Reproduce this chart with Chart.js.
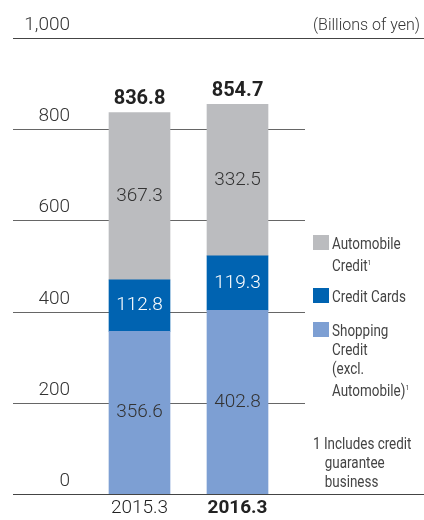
<!DOCTYPE html>
<html>
<head>
<meta charset="utf-8">
<script src="https://cdn.jsdelivr.net/npm/chart.js@4.4.1/dist/chart.umd.min.js"></script>
<style>
    html, body { margin: 0; padding: 0; background: #fff; }
    #wrap { position: relative; width: 424px; height: 520px; }
    #chart { position: absolute; left: 0; top: 0; }
    .unit { position: absolute; right: 4px; top: 15px; font: 300 16px Roboto, sans-serif; color: #333; white-space: nowrap; }
    .legend { position: absolute; left: 313px; font: 16px Roboto, sans-serif; color: #444; line-height: 19px; white-space: nowrap; }
    .legend .sw { position: absolute; left: 0; top: 1px; width: 16px; height: 15px; }
    .legend .tx { margin-left: 19px; transform: scaleX(0.84); transform-origin: left top; }
    .legend sup { font-size: 8px; vertical-align: 6px; }
    .note { position: absolute; left: 313px; top: 434px; font: 16px Roboto, sans-serif; color: #444; line-height: 19px; white-space: nowrap; transform: scaleX(0.84); transform-origin: left top; }
    .note .ind { padding-left: 14px; }
</style>
</head>
<body>
<div id="wrap">
    <canvas id="chart" width="424" height="520"></canvas>
    <div class="unit">(Billions of yen)</div>
    <div class="legend" style="top:234px"><span class="sw" style="background:#bbbcbf"></span><div class="tx">Automobile<br>Credit<sup>1</sup></div></div>
    <div class="legend" style="top:287px"><span class="sw" style="background:#0063b1"></span><div class="tx">Credit Cards</div></div>
    <div class="legend" style="top:321px"><span class="sw" style="background:#7d9fd3"></span><div class="tx">Shopping<br>Credit<br>(excl.<br>Automobile)<sup>1</sup></div></div>
    <div class="note">1 Includes credit<br><span class="ind">guarantee</span><br><span class="ind">business</span></div>
</div>
<script>
// Chart data
const categories = ['2015.3', '2016.3'];
const shoppingCredit = [356.6, 402.8];
const creditCards = [112.8, 119.3];
const automobileCredit = [367.3, 332.5];
const totals = [836.8, 854.7];
const yTicks = [0, 200, 400, 600, 800, 1000];

const colors = {
    shopping: '#7d9fd3',
    cards: '#0063b1',
    auto: '#bbbcbf',
    text: '#333333',
    grid: '#666666'
};

const numFont = '300 19px Roboto, sans-serif';

// Gridlines and y labels, drawn under the bars
const gridPlugin = {
    id: 'grid-lines',
    beforeDatasetsDraw(chart) {
        const { ctx } = chart;
        const y = chart.scales.y;
        ctx.save();
        yTicks.forEach(v => {
            const py = Math.round(y.getPixelForValue(v)) + 0.5;
            const full = (v === 0 || v === 1000);
            ctx.strokeStyle = full ? '#444' : colors.grid;
            ctx.lineWidth = 1;
            ctx.beginPath();
            ctx.moveTo(13, py);
            ctx.lineTo(full ? 424 : 305, py);
            ctx.stroke();

            ctx.font = numFont;
            ctx.fillStyle = colors.text;
            ctx.textAlign = 'right';
            ctx.textBaseline = 'middle';
            ctx.fillText(v.toLocaleString('en-US'), 70, py - 13);
        });
        ctx.restore();
    },
    afterDatasetsDraw(chart) {
        const { ctx } = chart;
        const x = chart.scales.x;
        const y = chart.scales.y;
        ctx.save();
        ctx.textAlign = 'center';
        ctx.textBaseline = 'middle';

        // segment values
        chart.data.datasets.forEach((ds, di) => {
            const meta = chart.getDatasetMeta(di);
            meta.data.forEach((bar, i) => {
                ctx.font = numFont;
                ctx.fillStyle = ds.labelColor;
                ctx.fillText(ds.data[i].toFixed(1), bar.x, (bar.y + bar.base) / 2);
            });
        });

        // totals and category labels
        categories.forEach((c, i) => {
            const px = x.getPixelForValue(i);
            ctx.font = 'bold 20px Roboto, sans-serif';
            ctx.fillStyle = '#222';
            ctx.textBaseline = 'bottom';
            ctx.fillText(totals[i].toFixed(1), px, y.getPixelForValue(totals[i]) - 3);

            ctx.font = i === 1 ? 'bold 19px Roboto, sans-serif' : numFont;
            ctx.textBaseline = 'middle';
            ctx.fillText(c, px, 508);
        });
        ctx.restore();
    }
};

new Chart(document.getElementById('chart'), {
    type: 'bar',
    data: {
        labels: categories,
        datasets: [
            { label: 'Shopping Credit', data: shoppingCredit, backgroundColor: colors.shopping, labelColor: colors.text },
            { label: 'Credit Cards', data: creditCards, backgroundColor: colors.cards, labelColor: '#ffffff' },
            { label: 'Automobile Credit', data: automobileCredit, backgroundColor: colors.auto, labelColor: colors.text }
        ]
    },
    options: {
        responsive: false,
        animation: false,
        layout: { padding: { left: 90.5, right: 137.5, top: 38, bottom: 26 } },
        datasets: { bar: { barThickness: 61, borderWidth: 0 } },
        scales: {
            x: { stacked: true, display: false },
            y: { stacked: true, display: false, min: 0, max: 1000 }
        },
        plugins: {
            legend: { display: false },
            tooltip: { enabled: false }
        }
    },
    plugins: [gridPlugin]
});
</script>
</body>
</html>
